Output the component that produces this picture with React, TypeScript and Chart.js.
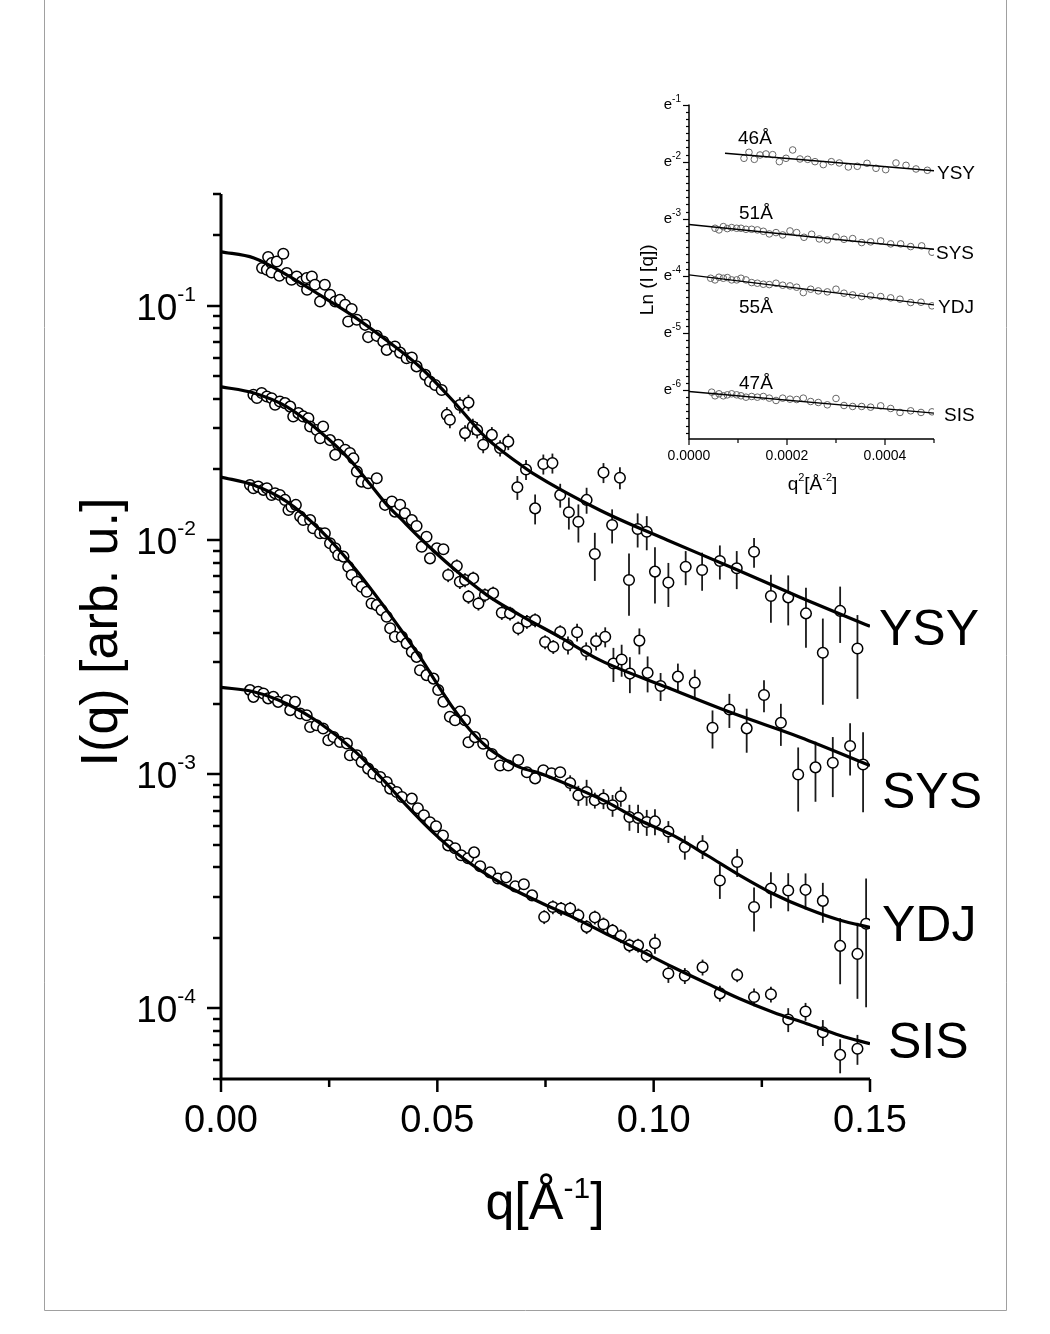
import React, { useEffect, useRef } from "react";
import { Chart, registerables } from "chart.js";

Chart.register(...registerables);

const FONT = '"Liberation Sans", Arial, Helvetica, sans-serif';

// ---------------- main plot data (q in 1/Å, I in arb. u.) ----------------
const seriesNames = ["YSY", "SYS", "YDJ", "SIS"];

const ysyQ = [0.0095,0.0106,0.0109,0.0117,0.0117,0.0129,0.0135,0.0144,0.0152,0.0163,0.0175,0.0187,0.0198,0.0199,0.0210,0.0217,0.0229,0.0240,0.0252,0.0264,0.0275,0.0287,0.0302,0.0294,0.0314,0.0333,0.0340,0.0360,0.0375,0.0383,0.0402,0.0414,0.0429,0.0441,0.0452,0.0472,0.0483,0.0495,0.0510,0.0522,0.0529,0.0552,0.0572,0.0564,0.0582,0.0592,0.0606,0.0626,0.0645,0.0664,0.0685,0.0705,0.0726,0.0745,0.0766,0.0784,0.0804,0.0826,0.0845,0.0864,0.0884,0.0904,0.0922,0.0943,0.0963,0.0984,0.1003,0.1034,0.1074,0.1112,0.1153,0.1192,0.1232,0.1271,0.1311,0.1352,0.1391,0.1431,0.1471];
const ysyI = [0.145,0.1426,0.1614,0.152,0.1387,0.1545,0.1343,0.1667,0.138,0.1291,0.1334,0.127,0.1313,0.117,0.1334,0.123,0.1043,0.123,0.1115,0.1043,0.1061,0.101,0.0968,0.0857,0.0871,0.0829,0.0735,0.0744,0.0704,0.0648,0.067,0.0631,0.0597,0.0601,0.0551,0.0507,0.0475,0.0459,0.0437,0.0342,0.0326,0.0377,0.0386,0.0286,0.0305,0.0295,0.0255,0.0281,0.0247,0.0263,0.0168,0.020,0.01365,0.0211,0.0213,0.01556,0.01313,0.01197,0.01483,0.00871,0.0194,0.01159,0.01845,0.00675,0.01114,0.01084,0.00733,0.00658,0.00769,0.00745,0.00813,0.00757,0.00891,0.00577,0.00569,0.00486,0.0033,0.00498,0.00344];
const ysyErr = [
  0.02,0.02,0.02,0.02,0.02,0.02,0.02,0.02,0.02,0.02,
  0.02,0.02,0.02,0.02,0.02,0.02,0.02,0.02,0.02,0.02,
  0.02,0.02,0.02,0.02,0.02,0.02,0.02,0.02,0.02,0.02,
  0.02,0.02,0.02,0.02,0.02,0.02,0.02,0.02,0.02,0.08,
  0.08,0.08,0.08,0.08,0.08,0.08,0.08,0.08,0.08,0.08,
  0.117,0.098,0.146,0.098,0.098,0.117,0.156,0.185,0.127,0.232,
  0.098,0.166,0.107,0.296,0.166,0.166,0.27,0.213,0.166,0.185,
  0.166,0.185,0.146,0.232,0.241,0.287,0.40,0.27,0.39];

const sysQ = [0.0075,0.0083,0.0094,0.0106,0.0117,0.0125,0.0136,0.0148,0.0160,0.0167,0.0179,0.0190,0.0202,0.0206,0.0221,0.0236,0.0229,0.0252,0.0271,0.0264,0.0287,0.0298,0.0306,0.0314,0.0325,0.0340,0.0360,0.0379,0.0395,0.0402,0.0414,0.0425,0.0441,0.0452,0.0464,0.0475,0.0483,0.0499,0.0514,0.0525,0.0545,0.0552,0.0564,0.0572,0.0583,0.0595,0.0610,0.0629,0.0649,0.0668,0.0687,0.0707,0.0726,0.0749,0.0768,0.0784,0.0802,0.0823,0.0844,0.0867,0.0888,0.0907,0.0926,0.0945,0.0967,0.0986,0.1016,0.1056,0.1095,0.1136,0.1175,0.1215,0.1255,0.1294,0.1334,0.1374,0.1414,0.1454,0.1484];
const sysI = [0.0417,0.0404,0.0424,0.0410,0.0403,0.0378,0.0390,0.0384,0.0371,0.0337,0.0348,0.0337,0.0331,0.0305,0.0295,0.0305,0.0272,0.0267,0.0255,0.0231,0.0243,0.0235,0.0223,0.0196,0.01775,0.01746,0.01836,0.01413,0.01459,0.01322,0.01413,0.0130,0.01216,0.01148,0.00936,0.01032,0.00835,0.00922,0.00913,0.00709,0.00774,0.00663,0.00675,0.00573,0.00686,0.00536,0.00582,0.00592,0.00489,0.00486,0.0042,0.00448,0.00455,0.00367,0.0035,0.00405,0.00356,0.00404,0.00336,0.0037,0.00386,0.00297,0.00309,0.00269,0.00372,0.00271,0.00238,0.00261,0.00246,0.00158,0.00189,0.00157,0.00218,0.00166,0.000997,0.00107,0.00112,0.00132,0.0011];
const sysErr = [
  0.02,0.02,0.02,0.02,0.02,0.02,0.02,0.02,0.02,0.02,
  0.02,0.02,0.02,0.02,0.02,0.02,0.02,0.02,0.02,0.02,
  0.02,0.02,0.02,0.02,0.02,0.02,0.02,0.02,0.02,0.02,
  0.02,0.02,0.02,0.02,0.02,0.02,0.02,0.02,0.02,0.068,
  0.068,0.068,0.068,0.068,0.068,0.068,0.068,0.068,0.068,0.068,
  0.068,0.068,0.068,0.068,0.068,0.068,0.088,0.088,0.088,0.088,
  0.098,0.166,0.156,0.175,0.127,0.175,0.137,0.137,0.137,0.185,
  0.166,0.213,0.156,0.204,0.305,0.287,0.287,0.251,0.374];

const ydjQ = [0.0067,0.0075,0.0086,0.0098,0.0106,0.0117,0.0125,0.0136,0.0148,0.0156,0.0163,0.0173,0.0183,0.0190,0.0206,0.0213,0.0229,0.0240,0.0252,0.0264,0.0271,0.0283,0.0294,0.0302,0.0314,0.0325,0.0337,0.0348,0.0360,0.0371,0.0383,0.0391,0.0402,0.0418,0.0429,0.0441,0.0452,0.0460,0.0475,0.0491,0.0502,0.0514,0.0529,0.0541,0.0552,0.0564,0.0572,0.0587,0.0606,0.0626,0.0645,0.0664,0.0687,0.0707,0.0726,0.0745,0.0764,0.0784,0.0807,0.0826,0.0845,0.0864,0.0884,0.0905,0.0924,0.0944,0.0964,0.0984,0.1003,0.1034,0.1072,0.1113,0.1153,0.1193,0.1232,0.1271,0.1311,0.1351,0.1391,0.1431,0.1471,0.1491];
const ydjI = [0.01718,0.01663,0.0169,0.01637,0.01663,0.01556,0.01584,0.01556,0.01483,0.01343,0.01387,0.01412,0.01259,0.01217,0.01217,0.01122,0.01068,0.01068,0.00968,0.00922,0.00863,0.00849,0.00769,0.00709,0.00663,0.00631,0.00601,0.00536,0.00527,0.00502,0.0047,0.0042,0.00386,0.00386,0.00362,0.00333,0.00317,0.00278,0.00265,0.00256,0.00229,0.00204,0.00176,0.0017,0.00185,0.0017,0.00137,0.00144,0.00135,0.00122,0.00109,0.00109,0.00115,0.00102,0.00096,0.00104,0.00101,0.00102,0.000918,0.000813,0.00084,0.000774,0.000787,0.000737,0.000805,0.000657,0.000651,0.000625,0.000629,0.00057,0.000489,0.000492,0.000352,0.000422,0.000271,0.000325,0.000319,0.000321,0.000288,0.000185,0.000171,0.00023];
const ydjErr = [
  0.02,0.02,0.02,0.02,0.02,0.02,0.02,0.02,0.02,0.02,
  0.02,0.02,0.02,0.02,0.02,0.02,0.02,0.02,0.02,0.02,
  0.02,0.02,0.02,0.02,0.02,0.02,0.02,0.02,0.02,0.02,
  0.02,0.02,0.02,0.02,0.02,0.02,0.02,0.02,0.02,0.02,
  0.02,0.02,0.05,0.05,0.05,0.05,0.05,0.05,0.05,0.05,
  0.05,0.05,0.05,0.05,0.05,0.05,0.05,0.05,0.078,0.098,
  0.127,0.078,0.098,0.107,0.098,0.127,0.137,0.127,0.127,0.107,
  0.117,0.117,0.166,0.137,0.213,0.175,0.185,0.175,0.194,0.314,
  0.357,0.56];

const sisQ = [0.0067,0.0075,0.0086,0.0098,0.0109,0.0121,0.0132,0.0152,0.0160,0.0171,0.0183,0.0198,0.0206,0.0221,0.0236,0.0248,0.0260,0.0275,0.0291,0.0298,0.0314,0.0325,0.0340,0.0352,0.0368,0.0383,0.0391,0.0406,0.0418,0.0441,0.0455,0.0469,0.0483,0.0497,0.0513,0.0525,0.0541,0.0555,0.0571,0.0585,0.0599,0.0622,0.0640,0.0659,0.0680,0.0700,0.0719,0.0747,0.0767,0.0786,0.0807,0.0826,0.0845,0.0864,0.0884,0.0905,0.0924,0.0944,0.0964,0.0984,0.1003,0.1034,0.1072,0.1113,0.1153,0.1193,0.1232,0.1271,0.1311,0.1351,0.1391,0.1431,0.1471];
const sisI = [0.002286,0.00214,0.002249,0.002213,0.002108,0.00214,0.002037,0.00207,0.001878,0.002037,0.001816,0.001786,0.001592,0.001618,0.001567,0.001397,0.001442,0.001374,0.001352,0.001205,0.001205,0.001129,0.001057,0.001007,0.000973,0.000927,0.000868,0.00084,0.000799,0.000787,0.000716,0.000668,0.000624,0.0006,0.000548,0.000497,0.000483,0.000451,0.000438,0.000464,0.000405,0.000381,0.000359,0.000363,0.000332,0.000339,0.000304,0.000246,0.000271,0.000267,0.000267,0.00025,0.000223,0.000245,0.000229,0.000215,0.000204,0.000186,0.000186,0.000168,0.00019,0.000141,0.000138,0.00015,0.000116,0.000139,0.000112,0.000115,0.0000898,0.0000971,0.0000792,0.0000634,0.0000673];
const sisErr = [
  0.03,0.03,0.03,0.03,0.03,0.03,0.03,0.03,0.03,0.03,
  0.03,0.03,0.03,0.03,0.03,0.03,0.03,0.03,0.03,0.03,
  0.03,0.03,0.03,0.03,0.03,0.03,0.03,0.03,0.03,0.03,
  0.03,0.03,0.03,0.03,0.03,0.03,0.03,0.03,0.03,0.03,
  0.03,0.03,0.03,0.03,0.03,0.03,0.03,0.068,0.068,0.068,
  0.068,0.068,0.068,0.068,0.068,0.068,0.068,0.068,0.068,0.068,
  0.098,0.088,0.078,0.078,0.078,0.068,0.088,0.078,0.117,0.088,
  0.127,0.166,0.146];

// fitted curves
const ysyFitQ = [0,0.0076,0.0152,0.0229,0.0305,0.0381,0.046,0.0534,0.0611,0.0687,0.072,0.0876,0.1031,0.1183,0.1338,0.15];
const ysyFitI = [0.170,0.160,0.1355,0.111,0.0906,0.0716,0.0548,0.0397,0.0275,0.0213,0.0193,0.0134,0.0100,0.0076,0.0057,0.00428];
const sysFitQ = [0,0.0074,0.01525,0.02288,0.02981,0.03443,0.03836,0.04137,0.04599,0.05362,0.06147,0.0691,0.07835,0.08759,0.10307,0.11833,0.13381,0.15];
const sysFitI = [0.0451,0.0425,0.0370,0.0290,0.0220,0.01734,0.01413,0.01242,0.01020,0.00759,0.00582,0.00478,0.00385,0.00307,0.00235,0.00182,0.00144,0.00109];
const ydjFitQ = [0,0.0075,0.0152,0.0229,0.0306,0.0383,0.0421,0.046,0.0499,0.0537,0.0576,0.0614,0.0652,0.0691,0.0737,0.0814,0.0891,0.0968,0.1045,0.1123,0.1199,0.1276,0.1354,0.1431,0.15];
const ydjFitI = [0.01858,0.01718,0.01459,0.01104,0.00769,0.00502,0.00401,0.00317,0.00244,0.00191,0.00154,0.00131,0.00117,0.00107,0.00101,0.000883,0.000762,0.000636,0.000548,0.000451,0.00037,0.000309,0.000267,0.000238,0.000222];
const sisFitQ = [0,0.0075,0.0152,0.0229,0.0306,0.0383,0.0414,0.049,0.0566,0.0645,0.0737,0.0814,0.0891,0.0968,0.1045,0.1123,0.1199,0.1276,0.1354,0.1431,0.15];
const sisFitI = [0.00235,0.00225,0.0020,0.00165,0.00127,0.000912,0.000787,0.000565,0.000429,0.000345,0.000284,0.000245,0.000208,0.000177,0.00015,0.000128,0.00011,0.0000964,0.0000861,0.0000767,0.0000707];

const xTickValues = [0, 0.05, 0.1, 0.15];
const xTickLabels = ["0.00", "0.05", "0.10", "0.15"];
const xMinorTicks = [0.025, 0.075, 0.125];
const yDecadeExps = [-1, -2, -3, -4];

// ---------------- inset data (q^2 in 1/Å^2, ln I) ----------------
const insetRadiusLabels = ["46Å", "51Å", "55Å", "47Å"];

const inYsyQ2 = [1.122e-4,1.224e-4,1.333e-4,1.449e-4,1.571e-4,1.707e-4,1.844e-4,1.980e-4,2.116e-4,2.265e-4,2.422e-4,2.571e-4,2.741e-4,2.905e-4,3.068e-4,3.252e-4,3.435e-4,3.633e-4,3.816e-4,4.014e-4,4.224e-4,4.429e-4,4.633e-4,4.864e-4];
const inYsyLn = [-1.941,-1.836,-1.959,-1.883,-1.865,-1.877,-2.0,-1.941,-1.795,-1.953,-1.959,-2.0,-2.052,-2.0,-2.023,-2.093,-2.081,-2.029,-2.116,-2.140,-2.023,-2.064,-2.128,-2.151];
const inSysQ2 = [0.531e-4,0.612e-4,0.701e-4,0.782e-4,0.871e-4,0.973e-4,1.061e-4,1.163e-4,1.279e-4,1.395e-4,1.517e-4,1.639e-4,1.776e-4,1.912e-4,2.061e-4,2.197e-4,2.347e-4,2.503e-4,2.660e-4,2.823e-4,3.0e-4,3.163e-4,3.340e-4,3.524e-4,3.707e-4,3.912e-4,4.116e-4,4.320e-4,4.524e-4,4.748e-4,4.959e-4];
const inSysLn = [-3.167,-3.196,-3.138,-3.173,-3.155,-3.167,-3.167,-3.185,-3.185,-3.196,-3.220,-3.266,-3.243,-3.284,-3.214,-3.243,-3.325,-3.272,-3.354,-3.371,-3.319,-3.360,-3.348,-3.418,-3.406,-3.389,-3.441,-3.441,-3.488,-3.476,-3.587];
const inYdjQ2 = [0.442e-4,0.531e-4,0.612e-4,0.701e-4,0.782e-4,0.871e-4,0.973e-4,1.061e-4,1.163e-4,1.279e-4,1.395e-4,1.517e-4,1.639e-4,1.776e-4,1.912e-4,2.061e-4,2.197e-4,2.333e-4,2.483e-4,2.639e-4,2.823e-4,3.0e-4,3.163e-4,3.340e-4,3.524e-4,3.707e-4,3.912e-4,4.116e-4,4.306e-4,4.524e-4,4.735e-4,4.959e-4];
const inYdjLn = [-4.043,-4.072,-4.025,-4.043,-4.031,-4.072,-4.072,-4.043,-4.072,-4.119,-4.130,-4.148,-4.154,-4.130,-4.165,-4.177,-4.200,-4.294,-4.235,-4.265,-4.282,-4.235,-4.305,-4.335,-4.364,-4.352,-4.364,-4.387,-4.410,-4.469,-4.463,-4.527];
const inSisQ2 = [0.463e-4,0.531e-4,0.612e-4,0.701e-4,0.782e-4,0.871e-4,0.973e-4,1.061e-4,1.163e-4,1.279e-4,1.395e-4,1.517e-4,1.639e-4,1.776e-4,1.912e-4,2.061e-4,2.197e-4,2.333e-4,2.483e-4,2.639e-4,2.823e-4,3.0e-4,3.163e-4,3.340e-4,3.524e-4,3.707e-4,3.912e-4,4.116e-4,4.306e-4,4.524e-4,4.735e-4,4.959e-4];
const inSisLn = [-6.039,-6.103,-6.068,-6.103,-6.086,-6.068,-6.086,-6.103,-6.127,-6.115,-6.127,-6.115,-6.144,-6.185,-6.144,-6.162,-6.168,-6.144,-6.203,-6.220,-6.261,-6.150,-6.273,-6.290,-6.290,-6.302,-6.279,-6.325,-6.395,-6.366,-6.395,-6.384];

const inYsyFitQ2 = [0.735e-4, 5.0e-4];
const inYsyFitLn = [-1.853, -2.158];
const inSysFitQ2 = [0, 5.0e-4];
const inSysFitLn = [-3.10, -3.534];
const inYdjFitQ2 = [0, 5.0e-4];
const inYdjFitLn = [-3.984, -4.510];
const inSisFitQ2 = [0, 5.0e-4];
const inSisFitLn = [-6.028, -6.406];

const insetXTickValues = [0, 0.0002, 0.0004];
const insetXTickLabels = ["0.0000", "0.0002", "0.0004"];
const insetXMinorTicks = [0.0001, 0.0003, 0.0005];
const insetYTickExps = [-1, -2, -3, -4, -5, -6];

// ---------------- helpers ----------------
const toPts = (xs: number[], ys: number[]) => xs.map((x, i) => ({ x, y: ys[i] }));

type Part = { t: string; sup?: boolean };
function drawRich(ctx: CanvasRenderingContext2D, parts: Part[], x: number, y: number,
  align: "left" | "right" | "center", baseFont: string, supFont: string, rise: number) {
  ctx.textAlign = "left";
  ctx.textBaseline = "alphabetic";
  const widths = parts.map(p => { ctx.font = p.sup ? supFont : baseFont; return ctx.measureText(p.t).width; });
  const total = widths.reduce((a, b) => a + b, 0);
  let cx = align === "left" ? x : align === "right" ? x - total : x - total / 2;
  parts.forEach((p, i) => {
    ctx.font = p.sup ? supFont : baseFont;
    ctx.fillText(p.t, cx, p.sup ? y - rise : y);
    cx += widths[i];
  });
}

const mainPoints = [
  { q: ysyQ, I: ysyI, e: ysyErr },
  { q: sysQ, I: sysI, e: sysErr },
  { q: ydjQ, I: ydjI, e: ydjErr },
  { q: sisQ, I: sisI, e: sisErr },
];
const mainFits = [
  { q: ysyFitQ, I: ysyFitI },
  { q: sysFitQ, I: sysFitI },
  { q: ydjFitQ, I: ydjFitI },
  { q: sisFitQ, I: sisFitI },
];
const nameLabelPos = [
  { x: 879, y: 645 },
  { x: 882, y: 808 },
  { x: 882, y: 941 },
  { x: 888, y: 1058 },
];

const mainDecor = {
  id: "mainDecor",
  beforeDatasetsDraw(chart: any) {
    const { ctx, chartArea } = chart;
    const xs = chart.scales.x, ys = chart.scales.y;
    ctx.save();
    ctx.beginPath();
    ctx.rect(chartArea.left, chartArea.top, chartArea.right - chartArea.left, chartArea.bottom - chartArea.top);
    ctx.clip();
    ctx.strokeStyle = "#1a1a1a";
    ctx.lineWidth = 1.8;
    mainPoints.forEach(s => {
      s.q.forEach((q, i) => {
        const v = s.I[i];
        const d = v * s.e[i];
        const px = xs.getPixelForValue(q);
        const y1 = ys.getPixelForValue(v + d);
        const y2 = ys.getPixelForValue(Math.max(v - d, 1e-12));
        ctx.beginPath();
        ctx.moveTo(px, y1);
        ctx.lineTo(px, y2);
        ctx.stroke();
      });
    });
    ctx.restore();
  },
  afterDraw(chart: any) {
    const { ctx, chartArea } = chart;
    const { left, right, top, bottom } = chartArea;
    const xs = chart.scales.x, ys = chart.scales.y;
    ctx.save();
    // outer frame
    ctx.strokeStyle = "#a0a0a0";
    ctx.lineWidth = 1;
    ctx.beginPath();
    ctx.moveTo(44.5, 0);
    ctx.lineTo(44.5, 1310.5);
    ctx.lineTo(1006.5, 1310.5);
    ctx.lineTo(1006.5, 0);
    ctx.stroke();

    ctx.strokeStyle = "#000";
    ctx.fillStyle = "#000";
    // y ticks
    ctx.lineWidth = 2.5;
    const ymin = ys.min, ymax = ys.max;
    for (let d = -6; d <= 0; d++) {
      for (let k = 1; k <= 9; k++) {
        const v = k * Math.pow(10, d);
        if (v < ymin * 0.999 || v > ymax * 1.001) continue;
        const py = Math.round(ys.getPixelForValue(v));
        const len = k === 1 ? 14 : 8;
        ctx.beginPath();
        ctx.moveTo(left - len, py);
        ctx.lineTo(left, py);
        ctx.stroke();
      }
    }
    // x ticks
    xTickValues.forEach(v => {
      const px = xs.getPixelForValue(v);
      ctx.beginPath(); ctx.moveTo(px, bottom); ctx.lineTo(px, bottom + 13); ctx.stroke();
    });
    xMinorTicks.forEach(v => {
      const px = xs.getPixelForValue(v);
      ctx.beginPath(); ctx.moveTo(px, bottom); ctx.lineTo(px, bottom + 8); ctx.stroke();
    });
    // axis lines
    ctx.lineWidth = 3;
    ctx.beginPath();
    ctx.moveTo(left, top);
    ctx.lineTo(left, bottom);
    ctx.lineTo(right, bottom);
    ctx.stroke();

    // y tick labels 10^-n
    yDecadeExps.forEach(n => {
      const py = ys.getPixelForValue(Math.pow(10, n));
      drawRich(ctx, [{ t: "10" }, { t: "-" + Math.abs(n), sup: true }], 196, py + 14, "right",
        `37px ${FONT}`, `21px ${FONT}`, 19);
    });
    // x tick labels
    ctx.font = `38px ${FONT}`;
    ctx.textAlign = "center";
    ctx.textBaseline = "alphabetic";
    xTickValues.forEach((v, i) => {
      ctx.fillText(xTickLabels[i], xs.getPixelForValue(v), 1132);
    });
    // x title
    drawRich(ctx, [{ t: "q[Å" }, { t: "-1", sup: true }, { t: "]" }], 545, 1219, "center",
      `52px ${FONT}`, `30px ${FONT}`, 21);
    // y title
    ctx.save();
    ctx.translate(117, 632);
    ctx.rotate(-Math.PI / 2);
    ctx.font = `52px ${FONT}`;
    ctx.textAlign = "center";
    ctx.textBaseline = "alphabetic";
    ctx.fillText("I(q) [arb. u.]", 0, 0);
    ctx.restore();
    // series names
    ctx.font = `50px ${FONT}`;
    ctx.textAlign = "left";
    seriesNames.forEach((n, i) => ctx.fillText(n, nameLabelPos[i].x, nameLabelPos[i].y));
    ctx.restore();
  },
};

const insetNamePos = [
  { x: 307, y: 99 },
  { x: 306, y: 179 },
  { x: 308, y: 233 },
  { x: 314, y: 341 },
];
const insetRadiusPos = [
  { x: 108, y: 64 },
  { x: 109, y: 139 },
  { x: 109, y: 233 },
  { x: 109, y: 309 },
];

const insetDecor = {
  id: "insetDecor",
  afterDraw(chart: any) {
    const { ctx, chartArea } = chart;
    const { left, right, top, bottom } = chartArea;
    const xs = chart.scales.x, ys = chart.scales.y;
    ctx.save();
    ctx.strokeStyle = "#000";
    ctx.fillStyle = "#000";
    ctx.lineWidth = 1.2;
    // y minor + major ticks
    for (let n = -7; n <= -1; n++) {
      for (let j = 0; j < 8; j++) {
        const v = n + j / 8;
        if (v < ys.min - 1e-9 || v > ys.max + 1e-9) continue;
        const py = Math.round(ys.getPixelForValue(v)) + 0.5;
        const len = j === 0 ? 6 : 3;
        ctx.beginPath(); ctx.moveTo(left - len, py); ctx.lineTo(left, py); ctx.stroke();
      }
    }
    insetXTickValues.forEach(v => {
      const px = xs.getPixelForValue(v);
      ctx.beginPath(); ctx.moveTo(px, bottom); ctx.lineTo(px, bottom + 6); ctx.stroke();
    });
    insetXMinorTicks.forEach(v => {
      const px = xs.getPixelForValue(v);
      ctx.beginPath(); ctx.moveTo(px, bottom); ctx.lineTo(px, bottom + 4); ctx.stroke();
    });
    ctx.lineWidth = 1.5;
    ctx.beginPath();
    ctx.moveTo(left, top);
    ctx.lineTo(left, bottom);
    ctx.lineTo(right, bottom);
    ctx.stroke();
    // y labels e^-n
    insetYTickExps.forEach(n => {
      const py = ys.getPixelForValue(n);
      drawRich(ctx, [{ t: "e" }, { t: "-" + Math.abs(n), sup: true }], left - 8, py + 4.5, "right",
        `15px ${FONT}`, `10px ${FONT}`, 7);
    });
    // x labels
    ctx.font = `14px ${FONT}`;
    ctx.textAlign = "center";
    ctx.textBaseline = "alphabetic";
    insetXTickValues.forEach((v, i) => ctx.fillText(insetXTickLabels[i], xs.getPixelForValue(v), bottom + 21));
    // x title
    drawRich(ctx, [{ t: "q" }, { t: "2", sup: true }, { t: "[Å" }, { t: "-2", sup: true }, { t: "]" }],
      (left + right) / 2 + 1, bottom + 51, "center", `19px ${FONT}`, `11px ${FONT}`, 9);
    // y title
    ctx.save();
    ctx.translate(23, (top + bottom) / 2 + 8);
    ctx.rotate(-Math.PI / 2);
    ctx.font = `19px ${FONT}`;
    ctx.textAlign = "center";
    ctx.fillText("Ln (I [q])", 0, 0);
    ctx.restore();
    // labels
    ctx.font = `19px ${FONT}`;
    ctx.textAlign = "left";
    seriesNames.forEach((n, i) => ctx.fillText(n, insetNamePos[i].x, insetNamePos[i].y));
    insetRadiusLabels.forEach((n, i) => ctx.fillText(n, insetRadiusPos[i].x, insetRadiusPos[i].y));
    ctx.restore();
  },
};

export default function App() {
  const mainRef = useRef<HTMLCanvasElement | null>(null);
  const insetRef = useRef<HTMLCanvasElement | null>(null);

  useEffect(() => {
    if (!mainRef.current || !insetRef.current) return;
    const fitSets = mainFits.map(f => ({
      type: "line" as const,
      data: toPts(f.q, f.I),
      borderColor: "#000",
      borderWidth: 3.2,
      pointRadius: 0,
      showLine: true,
      fill: false,
      cubicInterpolationMode: "monotone" as const,
      order: 0,
    }));
    const pointSets = mainPoints.map(s => ({
      type: "scatter" as const,
      data: toPts(s.q, s.I),
      pointRadius: 5.3,
      pointBorderWidth: 1.5,
      pointBorderColor: "#000",
      pointBackgroundColor: "#fff",
      showLine: false,
      order: 1,
    }));
    const main = new Chart(mainRef.current, {
      type: "scatter",
      data: { datasets: [...fitSets, ...pointSets] as any },
      options: {
        responsive: false,
        animation: false,
        devicePixelRatio: 1,
        events: [],
        layout: { padding: { left: 221, right: 180, top: 194, bottom: 255 } },
        plugins: { legend: { display: false }, tooltip: { enabled: false } },
        scales: {
          x: { type: "linear", min: 0, max: 0.15, display: false },
          y: { type: "logarithmic", min: 5e-5, max: 0.3, display: false },
        },
      },
      plugins: [mainDecor],
    });

    const inFits = [
      [inYsyFitQ2, inYsyFitLn], [inSysFitQ2, inSysFitLn], [inYdjFitQ2, inYdjFitLn], [inSisFitQ2, inSisFitLn],
    ].map(([q, l]) => ({
      type: "line" as const,
      data: toPts(q, l),
      borderColor: "#000",
      borderWidth: 1.4,
      pointRadius: 0,
      showLine: true,
      fill: false,
      order: 0,
    }));
    const inPts = [
      [inYsyQ2, inYsyLn], [inSysQ2, inSysLn], [inYdjQ2, inYdjLn], [inSisQ2, inSisLn],
    ].map(([q, l]) => ({
      type: "scatter" as const,
      data: toPts(q, l),
      pointRadius: 3.3,
      pointBorderWidth: 1,
      pointBorderColor: "#666",
      pointBackgroundColor: "rgba(255,255,255,0)",
      showLine: false,
      order: 1,
    }));
    const inset = new Chart(insetRef.current, {
      type: "scatter",
      data: { datasets: [...inFits, ...inPts] as any },
      options: {
        responsive: false,
        animation: false,
        devicePixelRatio: 1,
        events: [],
        layout: { padding: { left: 59, right: 71, top: 24.6, bottom: 61 } },
        plugins: { legend: { display: false }, tooltip: { enabled: false } },
        scales: {
          x: { type: "linear", min: 0, max: 0.0005, display: false },
          y: { type: "linear", min: -6.86, max: -1, display: false },
        },
      },
      plugins: [insetDecor],
    });
    return () => {
      main.destroy();
      inset.destroy();
    };
  }, []);

  return (
    <div style={{ position: "absolute", left: 0, top: 0, width: 1050, height: 1334, background: "#fff" }}>
      <canvas ref={mainRef} width={1050} height={1334}
        style={{ position: "absolute", left: 0, top: 0, width: 1050, height: 1334 }} />
      <canvas ref={insetRef} width={375} height={420}
        style={{ position: "absolute", left: 630, top: 80, width: 375, height: 420 }} />
    </div>
  );
}
